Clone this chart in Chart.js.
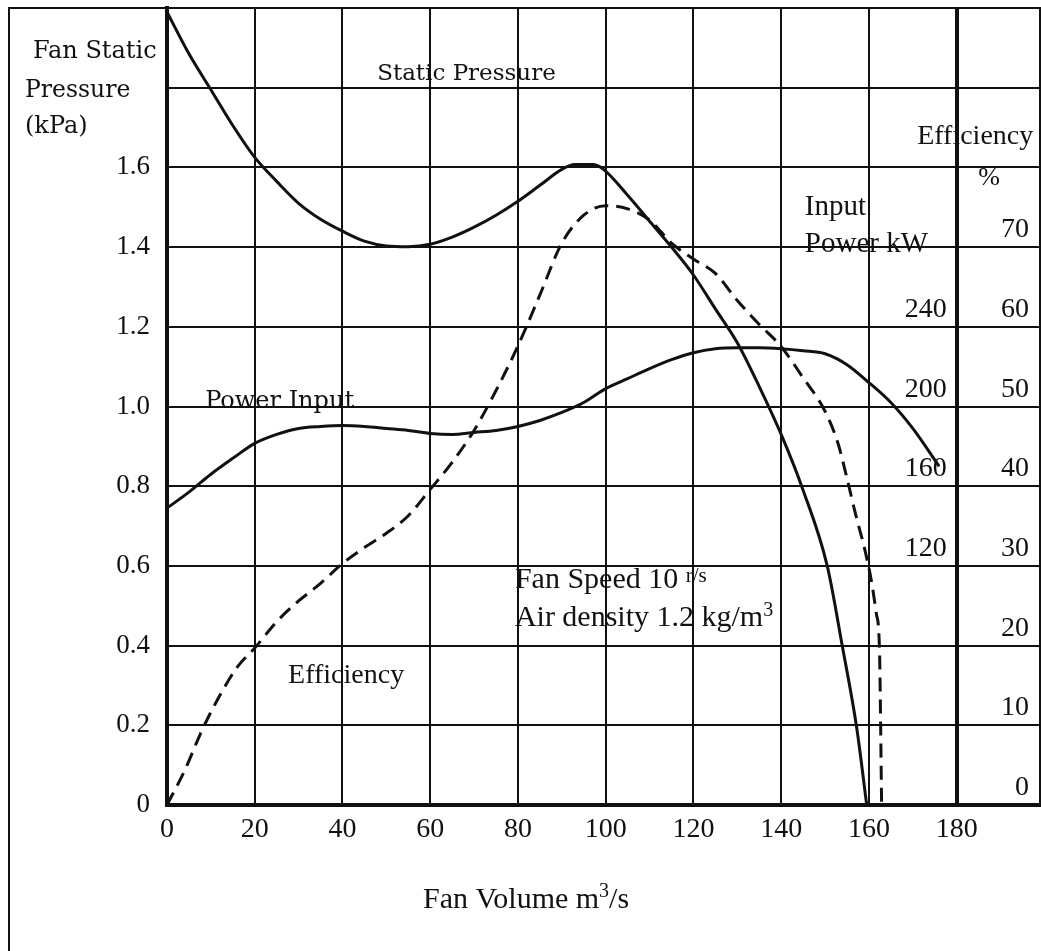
<!DOCTYPE html>
<html>
<head>
<meta charset="utf-8">
<title>Fan characteristic curves</title>
<script src="https://cdn.jsdelivr.net/npm/chart.js@4.4.1/dist/chart.umd.min.js"></script>
<style>
  html, body { margin: 0; padding: 0; background: #fff; }
  #fanChart { display: block; }
</style>
</head>
<body>
<canvas id="fanChart" width="1041" height="951"></canvas>
<script>
// static pressure, kPa
const staticVolume = [0, 5, 10, 15, 20, 25, 30, 35, 40, 45, 50, 55, 60, 65, 70, 75, 80, 85, 90, 93, 97, 99.5,
  105, 110, 115, 120, 125, 130, 135, 140, 145, 150.5, 154, 157.2, 159.5];
const staticPressure = [1.99, 1.885, 1.795, 1.705, 1.625, 1.565, 1.51, 1.47, 1.44, 1.415, 1.403, 1.401, 1.407, 1.425,
  1.45, 1.48, 1.515, 1.555, 1.595, 1.607, 1.607, 1.595, 1.53, 1.465, 1.40, 1.33, 1.245, 1.16, 1.05, 0.93, 0.79,
  0.6, 0.395, 0.195, 0];

// power input, kW
const powerVolume = [0, 5, 10, 15, 20, 25, 30, 35, 40, 45, 50, 55, 60, 65, 70, 75, 80, 85, 90, 95, 100, 105, 110,
  115, 120, 125, 130, 135, 140, 145, 150, 155, 160, 165, 170, 176];
const powerKW = [149, 157, 166, 174, 181.5, 186, 189, 190, 190.5, 190, 189, 188, 186.5, 186, 187, 188, 190, 193,
  197, 202, 209, 214, 219, 223.5, 227, 229, 229.5, 229.5, 229, 228, 226.5, 221, 212, 202, 189, 170];

// efficiency, %
const effVolume = [0, 4, 8, 12, 16, 20, 25, 30, 35, 40, 45, 50, 55, 60, 65, 70, 75, 80, 85, 90, 95, 100, 105, 110,
  115, 120, 125, 130, 135, 140, 145, 150, 153, 155, 157, 159, 160.5, 161.7, 162.4, 162.9];
const effPercent = [0, 4.3, 9.4, 13.7, 17.3, 19.7, 23, 25.6, 27.8, 30.3, 32.3, 34.1, 36.3, 39.6, 43, 47, 52, 57.6,
  64, 70.5, 74, 75.2, 74.8, 73.4, 70.5, 68.5, 66.7, 63.3, 60.3, 57.5, 53.6, 49.4, 45.3, 41, 36.4, 32.2, 28.3, 24,
  19.7, 0];

// axes
const volumeTicks = [0, 20, 40, 60, 80, 100, 120, 140, 160, 180];
const pressureTicks = [0, 0.2, 0.4, 0.6, 0.8, 1.0, 1.2, 1.4, 1.6, 1.8, 2.0];
const pressureTickLabels = ["0", "0.2", "0.4", "0.6", "0.8", "1.0", "1.2", "1.4", "1.6", "", ""];
const powerTicks = [120, 160, 200, 240];
const effTicks = [0, 10, 20, 30, 40, 50, 60, 70];

const INK = "#111";
const FONT = '"Liberation Serif", "Times New Roman", serif';
const SLAB = '"DejaVu Serif", serif';

const toPoints = (xs, ys) => xs.map((x, i) => ({ x, y: ys[i] }));

// texts placed on the figure; "at" is in data units (volume, kPa), "px" in canvas pixels
const notes = [
  { px: [33, 58], face: SLAB, parts: [{ t: "Fan Static", size: 24 }] },
  { px: [25, 97], face: SLAB, parts: [{ t: "Pressure", size: 23.5 }] },
  { px: [25, 133], face: SLAB, parts: [{ t: "(kPa)", size: 24 }] },
  { at: [47.9, 1.82], face: SLAB, parts: [{ t: "Static Pressure", size: 23 }] },
  { at: [8.7, 0.995], face: SLAB, parts: [{ t: "Power Input", size: 24 }] },
  { at: [27.6, 0.305], parts: [{ t: "Efficiency", size: 28 }] },
  { at: [79.3, 0.545], parts: [{ t: "Fan Speed 10 ", size: 30 }, { t: "r/s", size: 21, rise: 6 }] },
  { at: [79.3, 0.45], parts: [{ t: "Air density 1.2 kg/m", size: 30 }, { t: "3", size: 20, rise: 10 }] },
  { at: [171, 1.6575], parts: [{ t: "Efficiency", size: 28 }] },
  { at: [184.9, 1.555], parts: [{ t: "%", size: 26 }] },
  { at: [145.4, 1.48], parts: [{ t: "Input", size: 29 }] },
  { at: [145.4, 1.3875], parts: [{ t: "Power kW", size: 29 }] },
  { px: [423, 908], parts: [{ t: "Fan Volume m", size: 30 }, { t: "3", size: 20, rise: 11 }, { t: "/s", size: 30 }] }
];

function drawParts(ctx, x, y, note) {
  let cx = x;
  note.parts.forEach((p) => {
    ctx.font = `${p.size}px ${note.face || FONT}`;
    ctx.fillText(p.t, cx, y - (p.rise || 0));
    cx += ctx.measureText(p.t).width;
  });
}

const figurePlugin = {
  id: "figurePlugin",
  afterDraw(chart) {
    const { ctx, chartArea, scales } = chart;
    const xs = scales.x;
    const ys = scales.y;
    ctx.save();

    // outer frame
    ctx.strokeStyle = INK;
    ctx.lineWidth = 2;
    ctx.beginPath();
    ctx.moveTo(9, chart.height);
    ctx.lineTo(9, chartArea.top);
    ctx.lineTo(chartArea.right, chartArea.top);
    ctx.lineTo(chartArea.right, chartArea.bottom);
    ctx.stroke();

    ctx.fillStyle = INK;
    ctx.textBaseline = "alphabetic";

    // right hand scales, written just above their grid lines
    ctx.textAlign = "right";
    ctx.font = `28px ${FONT}`;
    const powerX = xs.getPixelForValue(180) - 10;
    powerTicks.forEach((v) => {
      ctx.fillText(String(v), powerX, scales.yPower.getPixelForValue(v) - 10);
    });
    effTicks.forEach((v) => {
      ctx.fillText(String(v), chartArea.right - 11, scales.yEff.getPixelForValue(v) - 10);
    });

    ctx.textAlign = "left";
    notes.forEach((n) => {
      const x = n.at ? xs.getPixelForValue(n.at[0]) : n.px[0];
      const y = n.at ? ys.getPixelForValue(n.at[1]) : n.px[1];
      drawParts(ctx, x, y, n);
    });

    ctx.restore();
  }
};

Chart.defaults.font.family = FONT;
Chart.defaults.color = INK;

new Chart(document.getElementById("fanChart"), {
  type: "line",
  data: {
    datasets: [
      {
        label: "Static Pressure",
        data: toPoints(staticVolume, staticPressure),
        yAxisID: "y",
        borderColor: INK,
        borderWidth: 3,
        pointRadius: 0,
        cubicInterpolationMode: "monotone"
      },
      {
        label: "Power Input",
        data: toPoints(powerVolume, powerKW),
        yAxisID: "yPower",
        borderColor: INK,
        borderWidth: 3,
        pointRadius: 0,
        cubicInterpolationMode: "monotone"
      },
      {
        label: "Efficiency",
        data: toPoints(effVolume, effPercent),
        yAxisID: "yEff",
        borderColor: INK,
        borderWidth: 3,
        borderDash: [14, 8],
        pointRadius: 0,
        cubicInterpolationMode: "monotone"
      }
    ]
  },
  options: {
    responsive: false,
    animation: false,
    devicePixelRatio: 1,
    layout: { padding: { top: 8, right: 1, left: 0, bottom: 0 } },
    plugins: {
      legend: { display: false },
      tooltip: { enabled: false }
    },
    scales: {
      x: {
        type: "linear",
        min: 0,
        max: 199,
        afterBuildTicks: (s) => { s.ticks = volumeTicks.map((v) => ({ value: v })); },
        afterFit: (s) => { s.height = 146; s.paddingLeft = 0; s.paddingRight = 0; },
        ticks: {
          font: { size: 28 },
          color: INK,
          padding: 8,
          maxRotation: 0
        },
        grid: {
          color: INK,
          lineWidth: (c) => (c.tick && c.tick.value === 180 ? 4 : 2),
          drawTicks: false
        },
        border: { color: INK, width: 4 }
      },
      y: {
        type: "linear",
        position: "left",
        min: 0,
        max: 2.0,
        afterBuildTicks: (s) => { s.ticks = pressureTicks.map((v) => ({ value: v })); },
        afterFit: (s) => { s.width = 167; s.paddingTop = 0; s.paddingBottom = 0; },
        ticks: {
          font: { size: 27 },
          color: INK,
          padding: 17,
          callback: (v, i) => pressureTickLabels[i]
        },
        grid: { color: INK, lineWidth: 2, drawTicks: false },
        border: { color: INK, width: 4 }
      },
      yPower: { type: "linear", position: "right", display: false, min: 0, max: 400 },
      yEff: { type: "linear", position: "right", display: false, min: 0, max: 100 }
    }
  },
  plugins: [figurePlugin]
});
</script>
</body>
</html>
